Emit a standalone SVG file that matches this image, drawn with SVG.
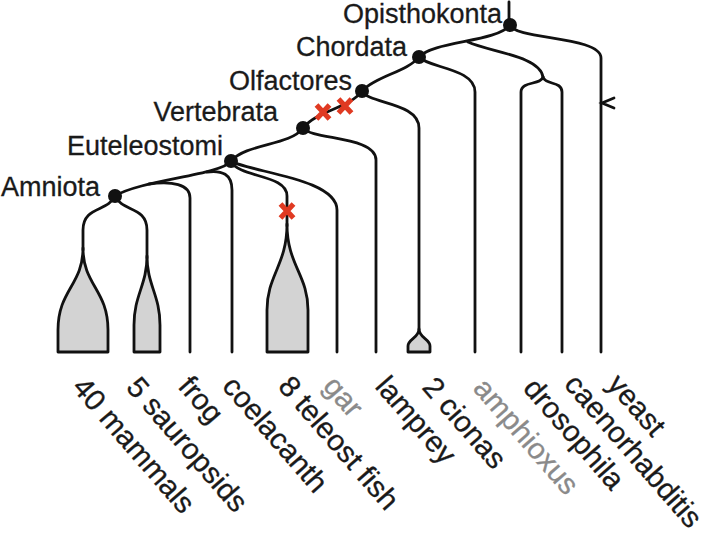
<svg xmlns="http://www.w3.org/2000/svg" width="709" height="537" viewBox="0 0 709 537">
<style>
.e{fill:none;stroke:#111;stroke-width:2.8;stroke-linecap:round}
.fan{fill:#d3d3d3;stroke:#111;stroke-width:2.8;stroke-linejoin:round}
.dot{fill:#111}
.nl{font-family:"Liberation Sans",Arial,sans-serif;font-size:27px;fill:#1a1a1a;stroke:#1a1a1a;stroke-width:0.3;text-anchor:end}
.leaf{font-family:"Liberation Sans",Arial,sans-serif;font-size:29.5px;fill:#1a1a1a;stroke:#1a1a1a;stroke-width:0.3}
.gray{fill:#8a8a8a;stroke:#8a8a8a}
.x{stroke:#e03a22;stroke-width:5.2;fill:none}
</style>
<defs>
<path id="xm" class="x" d="M-6.5,-7 L6.5,7 M6.5,-7 L-6.5,7"/>
</defs>
<rect width="709" height="537" fill="#fff"/>
<g id="connectors">
<path class="e" d="M509,2 L509,25"/>
<path class="e" d="M510,25 C497,42 433,41 419,57"/>
<path class="e" d="M510,25 C515,40 601,36 601,58 L601,352"/>
<path class="e" d="M468,42 C490,52 540,56 543,77"/>
<path class="e" d="M543,77 C541,85 521,81 521,92 L521,352"/>
<path class="e" d="M543,77 C545,85 562,81 562,92 L562,352"/>
<path class="e" d="M419,57 C428,68 475,68 475,92 L475,352"/>
<path class="e" d="M419,57 C407,72 376,76 362,91"/>
<path class="e" d="M362,91 C368,104 419,102 419,128 L419,330"/>
<path class="e" d="M362,91 C350,108 318,110 303,128"/>
<path class="e" d="M303,128 C312,140 376,136 376,160 L376,352"/>
<path class="e" d="M303,128 C290,146 247,143 231,161"/>
<path class="e" d="M231,161 C248,172 337,178 337,210 L337,352"/>
<path class="e" d="M231,161 C238,178 287,174 287,196 L287,226"/>
<path class="e" d="M231,161 C222,175 140,180 115,196"/>
<path class="e" d="M207,172 C222,170 232,174 232,190 L232,352"/>
<path class="e" d="M149,184 C172,181 190,184 190,198 L190,352"/>
<path class="e" d="M115,196 C108,212 83,206 83,230 L83,250"/>
<path class="e" d="M115,196 C122,212 147,206 147,230 L147,258"/>
<path class="e" d="M614,98 L602,103 L614,108"/>
</g>
<g id="losses">
<use href="#xm" x="323" y="112"/>
<use href="#xm" x="345" y="106"/>
<use href="#xm" x="287" y="211"/>
</g>
<g id="node-opisthokonta"><circle class="dot" cx="510" cy="25" r="7"/><text class="nl" x="502" y="22.5">Opisthokonta</text></g>
<g id="node-chordata"><circle class="dot" cx="419" cy="57" r="7"/><text class="nl" x="407" y="56">Chordata</text></g>
<g id="node-olfactores"><circle class="dot" cx="362" cy="91" r="7"/><text class="nl" x="352" y="90">Olfactores</text></g>
<g id="node-vertebrata"><circle class="dot" cx="303" cy="128" r="7"/><text class="nl" x="278" y="121">Vertebrata</text></g>
<g id="node-euteleostomi"><circle class="dot" cx="231" cy="161" r="7"/><text class="nl" x="223" y="155">Euteleostomi</text></g>
<g id="node-amniota"><circle class="dot" cx="115" cy="196" r="7"/><text class="nl" x="100" y="196">Amniota</text></g>
<g id="leaf-mammals"><path class="fan" d="M83,248 C83,285 58,290 58,330 L58,352 L108,352 L108,330 C108,290 83,285 83,248 Z"/><text class="leaf" transform="translate(71,388) rotate(49)">40 mammals</text></g>
<g id="leaf-sauropsids"><path class="fan" d="M147,256 C147,285 134,295 134,325 L134,352 L160,352 L160,325 C160,295 147,285 147,256 Z"/><text class="leaf" transform="translate(125,388) rotate(49)">5 sauropsids</text></g>
<g id="leaf-frog"><text class="leaf" transform="translate(177,387) rotate(49)">frog</text></g>
<g id="leaf-coelacanth"><text class="leaf" transform="translate(221,387) rotate(49)">coelacanth</text></g>
<g id="leaf-teleost"><path class="fan" d="M287,224 C287,265 267,275 267,310 L267,352 L308,352 L308,310 C308,275 287,265 287,224 Z"/><text class="leaf" transform="translate(277,387) rotate(49)">8 teleost fish</text></g>
<g id="leaf-gar"><text class="leaf gray" transform="translate(322,387) rotate(49)">gar</text></g>
<g id="leaf-lamprey"><text class="leaf" transform="translate(374,387) rotate(49)">lamprey</text></g>
<g id="leaf-cionas"><path class="fan" d="M419,329 C419,338 408,339 408,346 L408,352 L430,352 L430,346 C430,339 419,338 419,329 Z"/><text class="leaf" transform="translate(421,388) rotate(49)">2 cionas</text></g>
<g id="leaf-amphioxus"><text class="leaf gray" transform="translate(472,389) rotate(49)">amphioxus</text></g>
<g id="leaf-drosophila"><text class="leaf" transform="translate(522,389) rotate(49)">drosophila</text></g>
<g id="leaf-caenorhabditis"><text class="leaf" transform="translate(563,385) rotate(49)">caenorhabditis</text></g>
<g id="leaf-yeast"><text class="leaf" transform="translate(606,385) rotate(49)">yeast</text></g>
</svg>
